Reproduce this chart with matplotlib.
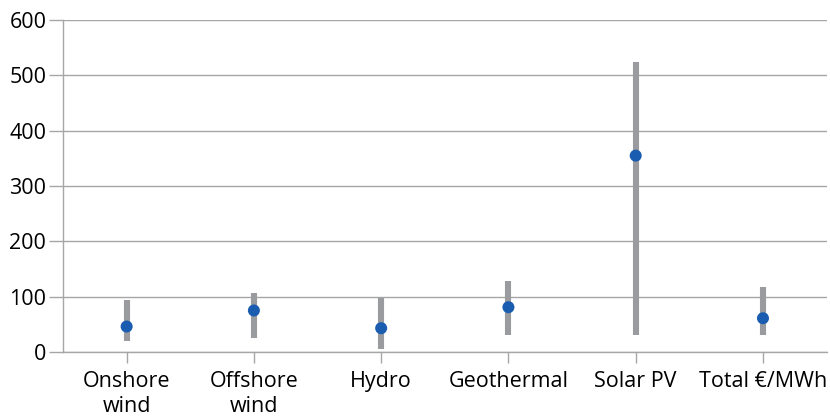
import matplotlib
matplotlib.use("Agg")
import matplotlib.pyplot as plt
import numpy as np

categories = ["Onshore\nwind", "Offshore\nwind", "Hydro", "Geothermal", "Solar PV", "Total €/MWh"]
low = [19, 25, 5, 31, 31, 31]
high = [94, 106, 97, 129, 525, 117]
mid = [46, 75, 43, 81, 355, 61]

plt.rcParams['font.family'] = ['Open Sans', 'DejaVu Sans']

fig = plt.figure(figsize=(8.3, 4.2), dpi=100)
ax = fig.add_axes([0.0759, 0.162, 0.92, 0.79])

x = np.arange(len(categories)) + 0.5
ax.vlines(x, low, high, colors="#9a9b9f", linewidth=4.4, zorder=2, capstyle='butt')
ax.scatter(x, mid, s=75, color="#1a5db0", zorder=3, edgecolors='none')

ax.set_xlim(0, len(categories))
ax.set_ylim(0, 600)
ax.set_yticks(range(0, 601, 100))
ax.set_xticks(x)
ax.set_xticklabels(categories, fontsize=15.5, linespacing=1.22)
ax.tick_params(axis='y', labelsize=15.5, length=10, width=1, color="#a6a6a6", pad=2)
ax.tick_params(axis='x', length=8, width=1, color="#a6a6a6", pad=6)
ax.grid(axis='y', color="#a6a6a6", linewidth=1, zorder=1)
ax.set_axisbelow(True)
for s in ['top', 'right']:
    ax.spines[s].set_visible(False)
for s in ['left', 'bottom']:
    ax.spines[s].set_color("#a6a6a6")
    ax.spines[s].set_linewidth(1)

fig.savefig("out.png", dpi=100)
